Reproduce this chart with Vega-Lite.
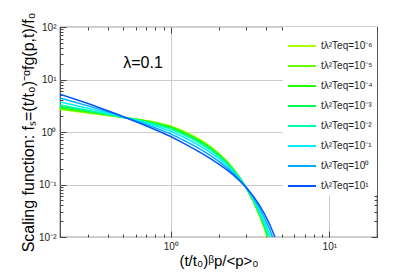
{
"$schema": "https://vega.github.io/schema/vega-lite/v6.json",
"width": 317, "height": 210,
"autosize": {"type": "none"},
"padding": {"left": 60, "top": 27, "right": 22, "bottom": 42},
"config": {"view": {"stroke": "#444444", "strokeWidth": 1.2}, "font": "Liberation Sans", "text": {"font": "Liberation Sans"}},
"datasets": {
"curves": [
{"x":0.2,"T":"10⁻⁶","f":2.685},{"x":0.3,"T":"10⁻⁶","f":2.302},{"x":0.45,"T":"10⁻⁶","f":1.973},{"x":0.65,"T":"10⁻⁶","f":1.714},{"x":0.8,"T":"10⁻⁶","f":1.535},{"x":1,"T":"10⁻⁶","f":1.3032},{"x":1.2,"T":"10⁻⁶","f":1.0452},{"x":1.4,"T":"10⁻⁶","f":0.8345},{"x":1.6,"T":"10⁻⁶","f":0.6603},{"x":1.8,"T":"10⁻⁶","f":0.5164},{"x":2,"T":"10⁻⁶","f":0.3983},{"x":2.25,"T":"10⁻⁶","f":0.2818},{"x":2.5,"T":"10⁻⁶","f":0.1944},{"x":2.75,"T":"10⁻⁶","f":0.1306},{"x":3,"T":"10⁻⁶","f":0.08526},{"x":3.3,"T":"10⁻⁶","f":0.04923},{"x":3.6,"T":"10⁻⁶","f":0.02725},{"x":3.9,"T":"10⁻⁶","f":0.01445},{"x":4.2,"T":"10⁻⁶","f":0.007338},{"x":4.5,"T":"10⁻⁶","f":0.003564},{"x":4.8,"T":"10⁻⁶","f":0.001656},{"x":5.1,"T":"10⁻⁶","f":0.000736},
{"x":0.2,"T":"10⁻⁵","f":2.776},{"x":0.3,"T":"10⁻⁵","f":2.350},{"x":0.45,"T":"10⁻⁵","f":1.986},{"x":0.65,"T":"10⁻⁵","f":1.699},{"x":0.8,"T":"10⁻⁵","f":1.510},{"x":1,"T":"10⁻⁵","f":1.2735},{"x":1.2,"T":"10⁻⁵","f":1.0179},{"x":1.4,"T":"10⁻⁵","f":0.8116},{"x":1.6,"T":"10⁻⁵","f":0.6423},{"x":1.8,"T":"10⁻⁵","f":0.5030},{"x":2,"T":"10⁻⁵","f":0.3890},{"x":2.25,"T":"10⁻⁵","f":0.2765},{"x":2.5,"T":"10⁻⁵","f":0.1918},{"x":2.75,"T":"10⁻⁵","f":0.1296},{"x":3,"T":"10⁻⁵","f":0.08534},{"x":3.3,"T":"10⁻⁵","f":0.04978},{"x":3.6,"T":"10⁻⁵","f":0.02785},{"x":3.9,"T":"10⁻⁵","f":0.01493},{"x":4.2,"T":"10⁻⁵","f":0.007667},{"x":4.5,"T":"10⁻⁵","f":0.003764},{"x":4.8,"T":"10⁻⁵","f":0.001769},{"x":5.1,"T":"10⁻⁵","f":0.000794},
{"x":0.2,"T":"10⁻⁴","f":2.910},{"x":0.3,"T":"10⁻⁴","f":2.420},{"x":0.45,"T":"10⁻⁴","f":2.003},{"x":0.65,"T":"10⁻⁴","f":1.678},{"x":0.8,"T":"10⁻⁴","f":1.475},{"x":1,"T":"10⁻⁴","f":1.2331},{"x":1.2,"T":"10⁻⁴","f":0.9809},{"x":1.4,"T":"10⁻⁴","f":0.7804},{"x":1.6,"T":"10⁻⁴","f":0.6177},{"x":1.8,"T":"10⁻⁴","f":0.4848},{"x":2,"T":"10⁻⁴","f":0.3763},{"x":2.25,"T":"10⁻⁴","f":0.2692},{"x":2.5,"T":"10⁻⁴","f":0.1882},{"x":2.75,"T":"10⁻⁴","f":0.1285},{"x":3,"T":"10⁻⁴","f":0.08547},{"x":3.3,"T":"10⁻⁴","f":0.05055},{"x":3.6,"T":"10⁻⁴","f":0.02870},{"x":3.9,"T":"10⁻⁴","f":0.01563},{"x":4.2,"T":"10⁻⁴","f":0.008150},{"x":4.5,"T":"10⁻⁴","f":0.004066},{"x":4.8,"T":"10⁻⁴","f":0.001939},{"x":5.1,"T":"10⁻⁴","f":0.000883},
{"x":0.2,"T":"10⁻³","f":3.069},{"x":0.3,"T":"10⁻³","f":2.502},{"x":0.45,"T":"10⁻³","f":2.023},{"x":0.65,"T":"10⁻³","f":1.654},{"x":0.8,"T":"10⁻³","f":1.437},{"x":1,"T":"10⁻³","f":1.1885},{"x":1.2,"T":"10⁻³","f":0.9401},{"x":1.4,"T":"10⁻³","f":0.7463},{"x":1.6,"T":"10⁻³","f":0.5909},{"x":1.8,"T":"10⁻³","f":0.4649},{"x":2,"T":"10⁻³","f":0.3623},{"x":2.25,"T":"10⁻³","f":0.2611},{"x":2.5,"T":"10⁻³","f":0.1842},{"x":2.75,"T":"10⁻³","f":0.1271},{"x":3,"T":"10⁻³","f":0.08561},{"x":3.3,"T":"10⁻³","f":0.05144},{"x":3.6,"T":"10⁻³","f":0.02971},{"x":3.9,"T":"10⁻³","f":0.01646},{"x":4.2,"T":"10⁻³","f":0.008739},{"x":4.5,"T":"10⁻³","f":0.004438},{"x":4.8,"T":"10⁻³","f":0.002154},{"x":5.1,"T":"10⁻³","f":0.000998},
{"x":0.2,"T":"10⁻²","f":3.280},{"x":0.3,"T":"10⁻²","f":2.608},{"x":0.45,"T":"10⁻²","f":2.048},{"x":0.65,"T":"10⁻²","f":1.626},{"x":0.8,"T":"10⁻²","f":1.390},{"x":1,"T":"10⁻²","f":1.1350},{"x":1.2,"T":"10⁻²","f":0.8918},{"x":1.4,"T":"10⁻²","f":0.7059},{"x":1.6,"T":"10⁻²","f":0.5591},{"x":1.8,"T":"10⁻²","f":0.4411},{"x":2,"T":"10⁻²","f":0.3456},{"x":2.25,"T":"10⁻²","f":0.2513},{"x":2.5,"T":"10⁻²","f":0.1794},{"x":2.75,"T":"10⁻²","f":0.1255},{"x":3,"T":"10⁻²","f":0.08579},{"x":3.3,"T":"10⁻²","f":0.05259},{"x":3.6,"T":"10⁻²","f":0.03101},{"x":3.9,"T":"10⁻²","f":0.01757},{"x":4.2,"T":"10⁻²","f":0.009541},{"x":4.5,"T":"10⁻²","f":0.004955},{"x":4.8,"T":"10⁻²","f":0.002457},{"x":5.1,"T":"10⁻²","f":0.001162},
{"x":0.2,"T":"10⁻¹","f":3.748},{"x":0.3,"T":"10⁻¹","f":2.834},{"x":0.45,"T":"10⁻¹","f":2.099},{"x":0.65,"T":"10⁻¹","f":1.570},{"x":0.8,"T":"10⁻¹","f":1.302},{"x":1,"T":"10⁻¹","f":1.0351},{"x":1.2,"T":"10⁻¹","f":0.8021},{"x":1.4,"T":"10⁻¹","f":0.6313},{"x":1.6,"T":"10⁻¹","f":0.5003},{"x":1.8,"T":"10⁻¹","f":0.3971},{"x":2,"T":"10⁻¹","f":0.3143},{"x":2.25,"T":"10⁻¹","f":0.2327},{"x":2.5,"T":"10⁻¹","f":0.1701},{"x":2.75,"T":"10⁻¹","f":0.1222},{"x":3,"T":"10⁻¹","f":0.08613},{"x":3.3,"T":"10⁻¹","f":0.05494},{"x":3.6,"T":"10⁻¹","f":0.03381},{"x":3.9,"T":"10⁻¹","f":0.02002},{"x":4.2,"T":"10⁻¹","f":0.01137},{"x":4.5,"T":"10⁻¹","f":0.006170},{"x":4.8,"T":"10⁻¹","f":0.003197},{"x":5.1,"T":"10⁻¹","f":0.001576},
{"x":0.2,"T":"10⁰","f":4.430},{"x":0.3,"T":"10⁰","f":3.145},{"x":0.45,"T":"10⁰","f":2.165},{"x":0.65,"T":"10⁰","f":1.502},{"x":0.8,"T":"10⁰","f":1.199},{"x":1,"T":"10⁰","f":0.9226},{"x":1.2,"T":"10⁰","f":0.7027},{"x":1.4,"T":"10⁰","f":0.5491},{"x":1.6,"T":"10⁰","f":0.4355},{"x":1.8,"T":"10⁰","f":0.3483},{"x":2,"T":"10⁰","f":0.2793},{"x":2.25,"T":"10⁰","f":0.2116},{"x":2.5,"T":"10⁰","f":0.1591},{"x":2.75,"T":"10⁰","f":0.1183},{"x":3,"T":"10⁰","f":0.08659},{"x":3.3,"T":"10⁰","f":0.05803},{"x":3.6,"T":"10⁰","f":0.03765},{"x":3.9,"T":"10⁰","f":0.02356},{"x":4.2,"T":"10⁰","f":0.01415},{"x":4.5,"T":"10⁰","f":0.008122},{"x":4.8,"T":"10⁰","f":0.004441},{"x":5.1,"T":"10⁰","f":0.002306},
{"x":0.2,"T":"10¹","f":5.233},{"x":0.3,"T":"10¹","f":3.489},{"x":0.45,"T":"10¹","f":2.233},{"x":0.65,"T":"10¹","f":1.438},{"x":0.8,"T":"10¹","f":1.104},{"x":1,"T":"10¹","f":0.8222},{"x":1.2,"T":"10¹","f":0.6155},{"x":1.4,"T":"10¹","f":0.4776},{"x":1.6,"T":"10¹","f":0.3791},{"x":1.8,"T":"10¹","f":0.3054},{"x":2,"T":"10¹","f":0.2481},{"x":2.25,"T":"10¹","f":0.1922},{"x":2.5,"T":"10¹","f":0.1488},{"x":2.75,"T":"10¹","f":0.1145},{"x":3,"T":"10¹","f":0.08703},{"x":3.3,"T":"10¹","f":0.06131},{"x":3.6,"T":"10¹","f":0.04196},{"x":3.9,"T":"10¹","f":0.02772},{"x":4.2,"T":"10¹","f":0.01761},{"x":4.5,"T":"10¹","f":0.01069},{"x":4.8,"T":"10¹","f":0.006172},{"x":5.1,"T":"10¹","f":0.003374}
],
"ann": [{"x": 0.668, "f": 20.6, "t": "λ=0.1"}]
},
"data": {"name": "curves"},
"layer": [
{
"mark": {"type": "line", "strokeWidth": 1.5, "clip": true},
"encoding": {
"x": {"field": "x", "type": "quantitative", "scale": {"type": "log", "domain": [0.2, 20], "nice": false},
 "axis": {"orient": "bottom", "values": [1, 10], "ticks": false, "domain": false, "grid": true, "gridColor": "#cccccc", "gridWidth": 1,
  "labelExpr": "datum.value < 5 ? '10⁰' : '10¹'", "labelFontSize": 10, "labelColor": "#222222", "labelPadding": 4,
  "title": "(t/t₀)ᵝp/<p>₀", "titleFontSize": 15, "titleFontWeight": "normal", "titleColor": "#000000", "titlePadding": 2}},
"y": {"field": "f", "type": "quantitative", "scale": {"type": "log", "domain": [0.01, 100], "nice": false},
 "axis": {"orient": "left", "values": [0.01, 0.1, 1, 10, 100], "ticks": false, "domain": false, "grid": true, "gridColor": "#cccccc", "gridWidth": 1,
  "labelExpr": "datum.value < 0.05 ? '10⁻²' : datum.value < 0.5 ? '10⁻¹' : datum.value < 5 ? '10⁰' : datum.value < 50 ? '10¹' : '10²'",
  "labelFontSize": 10, "labelColor": "#222222", "labelPadding": 4,
  "title": "Scaling function: fₛ=(t/t₀)⁻ᵅfg(p,t)/f₀", "titleFontSize": 16, "titleFontWeight": "normal", "titleColor": "#000000", "titlePadding": 2}},
"color": {"field": "T", "type": "nominal",
 "scale": {"domain": ["10⁻⁶", "10⁻⁵", "10⁻⁴", "10⁻³", "10⁻²", "10⁻¹", "10⁰", "10¹"],
  "range": ["#aaff00", "#66ff00", "#22ff00", "#00ff55", "#00ffaa", "#00eeff", "#00aaff", "#0055ff"]},
 "legend": {"orient": "none", "legendX": 223, "legendY": 0, "title": null, "symbolType": "stroke", "symbolSize": 784, "symbolStrokeWidth": 2,
  "labelFontSize": 10, "labelFont": "Liberation Sans", "labelColor": "#222222", "labelExpr": "'tλ²Teq=' + datum.label",
  "fillColor": "white", "padding": 4, "rowPadding": -20, "labelOffset": 4}}
}
},
{
"mark": {"type": "point", "opacity": 0},
"encoding": {
"x": {"field": "x", "type": "quantitative", "scale": {"type": "log", "domain": [0.2, 20], "nice": false},
 "axis": {"orient": "bottom", "values": [0.2,0.3,0.4,0.5,0.6,0.7,0.8,0.9,1,2,3,4,5,6,7,8,9,10,20], "labels": false, "domain": false, "grid": false, "title": null,
  "tickColor": "#444444", "tickSize": {"condition": {"test": "datum.value == 1 || datum.value == 10", "value": -6}, "value": -3}}},
"y": {"field": "f", "type": "quantitative", "scale": {"type": "log", "domain": [0.01, 100], "nice": false},
 "axis": {"orient": "left", "values": [0.01,0.02,0.03,0.04,0.05,0.06,0.07,0.08,0.09,0.1,0.2,0.3,0.4,0.5,0.6,0.7,0.8,0.9,1,2,3,4,5,6,7,8,9,10,20,30,40,50,60,70,80,90,100], "labels": false, "domain": false, "grid": false, "title": null,
  "tickColor": "#444444", "tickSize": {"condition": {"test": "indexof([0.01,0.1,1,10,100], datum.value) >= 0", "value": -6}, "value": -3}}}
}
},
{
"mark": {"type": "point", "opacity": 0},
"encoding": {
"x": {"field": "x", "type": "quantitative", "scale": {"type": "log", "domain": [0.2, 20], "nice": false},
 "axis": {"orient": "top", "values": [0.2,0.3,0.4,0.5,0.6,0.7,0.8,0.9,1,2,3,4,5,6,7,8,9,10,20], "labels": false, "domain": false, "grid": false, "title": null,
  "tickColor": "#444444", "tickSize": {"condition": {"test": "datum.value == 1 || datum.value == 10", "value": -6}, "value": -3}}},
"y": {"field": "f", "type": "quantitative", "scale": {"type": "log", "domain": [0.01, 100], "nice": false},
 "axis": {"orient": "right", "values": [0.01,0.02,0.03,0.04,0.05,0.06,0.07,0.08,0.09,0.1,0.2,0.3,0.4,0.5,0.6,0.7,0.8,0.9,1,2,3,4,5,6,7,8,9,10,20,30,40,50,60,70,80,90,100], "labels": false, "domain": false, "grid": false, "title": null,
  "tickColor": "#444444", "tickSize": {"condition": {"test": "indexof([0.01,0.1,1,10,100], datum.value) >= 0", "value": -6}, "value": -3}}}
}
},
{
"data": {"name": "ann"},
"mark": {"type": "text", "fontSize": 16, "color": "#000000", "font": "Liberation Sans"},
"encoding": {
"x": {"field": "x", "type": "quantitative", "scale": {"type": "log", "domain": [0.2, 20], "nice": false}, "axis": null},
"y": {"field": "f", "type": "quantitative", "scale": {"type": "log", "domain": [0.01, 100], "nice": false}, "axis": null},
"text": {"field": "t"}
}
}
],
"resolve": {"axis": {"x": "independent", "y": "independent"}}
}
